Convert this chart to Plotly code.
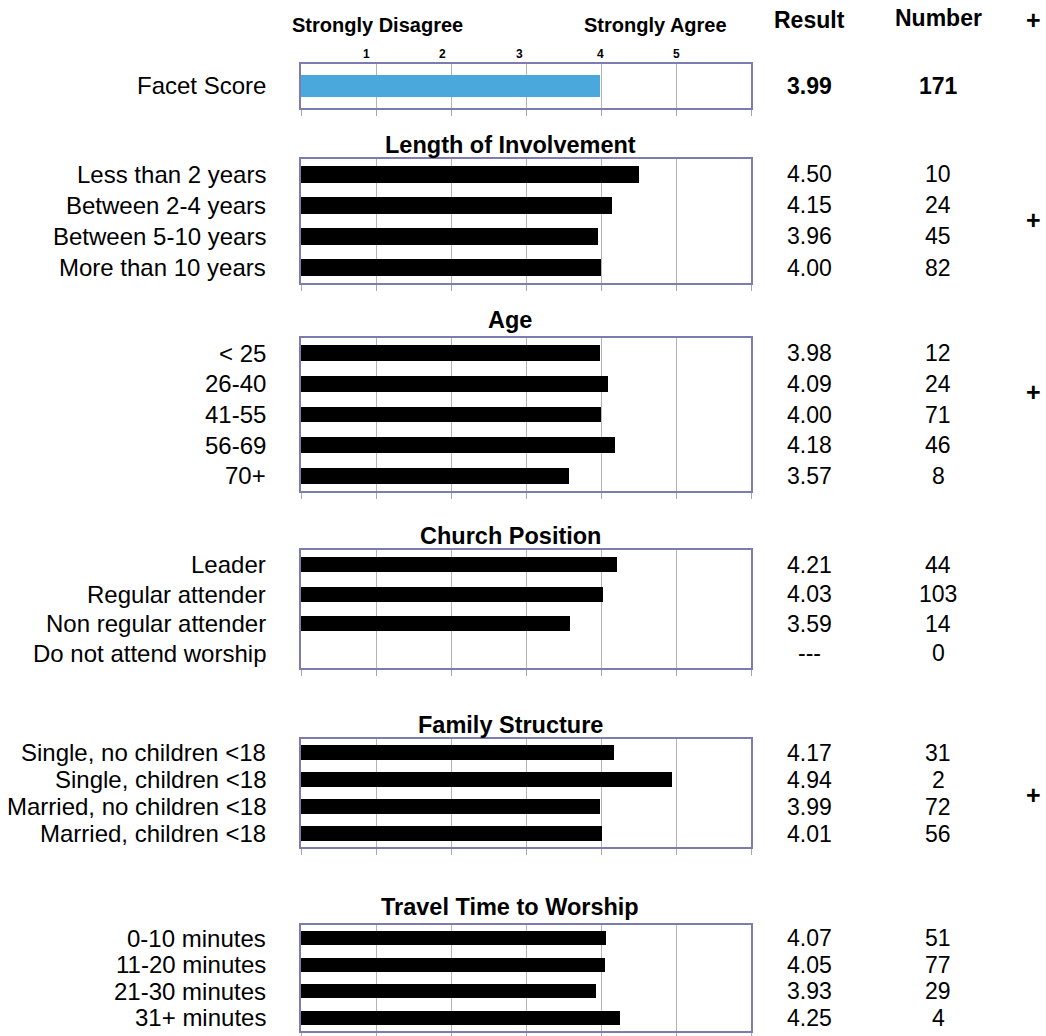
import plotly.graph_objects as go

# ---- data -------------------------------------------------------------
facet_labels = ["Facet Score"]
facet_values = [3.99]
facet_counts = [171]

involvement_labels = ["Less than 2 years", "Between 2-4 years",
                      "Between 5-10 years", "More than 10 years"]
involvement_values = [4.50, 4.15, 3.96, 4.00]
involvement_counts = [10, 24, 45, 82]

age_labels = ["< 25", "26-40", "41-55", "56-69", "70+"]
age_values = [3.98, 4.09, 4.00, 4.18, 3.57]
age_counts = [12, 24, 71, 46, 8]

position_labels = ["Leader", "Regular attender", "Non regular attender",
                   "Do not attend worship"]
position_values = [4.21, 4.03, 3.59, None]
position_counts = [44, 103, 14, 0]

family_labels = ["Single, no children <18", "Single, children <18",
                 "Married, no children <18", "Married, children <18"]
family_values = [4.17, 4.94, 3.99, 4.01]
family_counts = [31, 2, 72, 56]

travel_labels = ["0-10 minutes", "11-20 minutes", "21-30 minutes", "31+ minutes"]
travel_values = [4.07, 4.05, 3.93, 4.25]
travel_counts = [51, 77, 29, 4]

scale_ticks = [1, 2, 3, 4, 5]
scale_tick_labels = ["1", "2", "3", "4", "5"]

# ---- layout geometry (pixels) ----------------------------------------
W, H = 1046, 1036
FONT = "Arial, 'Liberation Sans', sans-serif"
BOX_LEFT, BOX_RIGHT = 301, 751
TITLE_X = 510
LABEL_RIGHT = 268
RESULT_X, NUMBER_X = 809, 938
BORDER = "#7c7cb0"
GRID = "#b4b4b4"
LABEL_SIZE = 24
VALUE_SIZE = 23
TITLE_SIZE = 23.5

panels = [
    # title, labels, values, counts, top px, bottom px, title y px, colour, bar width
    (None, facet_labels, facet_values, facet_counts, 64, 108, None, "#4ba8dc", 0.48),
    ("Length of Involvement", involvement_labels, involvement_values,
     involvement_counts, 159, 283, 145, "black", 0.52),
    ("Age", age_labels, age_values, age_counts, 338, 491, 320, "black", 0.52),
    ("Church Position", position_labels, position_values, position_counts,
     550, 668, 536, "black", 0.52),
    ("Family Structure", family_labels, family_values, family_counts,
     739, 847, 725, "black", 0.52),
    ("Travel Time to Worship", travel_labels, travel_values, travel_counts,
     925, 1031, 907, "black", 0.52),
]


def px(x):
    return x / W


def py(y):
    return 1 - y / H


fig = go.Figure()
annotations = []
layout_axes = {}

for i, (title, labels, values, counts, top, bottom, title_y, colour, bw) in enumerate(panels, start=1):
    xa = "x" if i == 1 else f"x{i}"
    ya = "y" if i == 1 else f"y{i}"
    fig.add_trace(go.Bar(
        x=values, y=labels, orientation="h", width=bw,
        marker=dict(color=colour, line=dict(width=0)),
        xaxis=xa, yaxis=ya, showlegend=False, hoverinfo="x+y",
    ))
    xkey = "xaxis" if i == 1 else f"xaxis{i}"
    ykey = "yaxis" if i == 1 else f"yaxis{i}"
    layout_axes[xkey] = dict(
        domain=[px(BOX_LEFT), px(BOX_RIGHT)], anchor=ya, range=[0, 6],
        tickvals=[0, 1, 2, 3, 4, 5, 6], showticklabels=False,
        showgrid=True, gridcolor=GRID, gridwidth=1,
        ticks="outside", ticklen=6, tickcolor="#a8a8a8", tickwidth=1,
        showline=True, linecolor=BORDER, linewidth=2, mirror=True,
        zeroline=False, fixedrange=True,
    )
    n = len(labels)
    layout_axes[ykey] = dict(
        domain=[py(bottom), py(top)], anchor=xa, type="category",
        categoryorder="array", categoryarray=labels,
        range=[n - 0.5, -0.5], showticklabels=False, showgrid=False,
        ticks="", showline=True, linecolor=BORDER, linewidth=2, mirror=True,
        zeroline=False, fixedrange=True,
    )

    bold = i == 1
    for lab, val, cnt in zip(labels, values, counts):
        annotations.append(dict(
            xref="paper", yref=ya, x=px(LABEL_RIGHT), y=lab, xanchor="right",
            yanchor="middle", text=lab, showarrow=False,
            font=dict(family=FONT, size=LABEL_SIZE, color="black")))
        res = "---" if val is None else f"{val:.2f}"
        annotations.append(dict(
            xref="paper", yref=ya, x=px(RESULT_X), y=lab, xanchor="center",
            yanchor="middle", text=f"<b>{res}</b>" if bold else res, showarrow=False,
            font=dict(family=FONT, size=VALUE_SIZE, color="black")))
        annotations.append(dict(
            xref="paper", yref=ya, x=px(NUMBER_X), y=lab, xanchor="center",
            yanchor="middle", text=f"<b>{cnt}</b>" if bold else str(cnt), showarrow=False,
            font=dict(family=FONT, size=VALUE_SIZE, color="black")))

    if title:
        annotations.append(dict(
            xref="paper", yref="paper", x=px(TITLE_X), y=py(title_y),
            xanchor="center", yanchor="middle", text=f"<b>{title}</b>", showarrow=False,
            font=dict(family=FONT, size=TITLE_SIZE, color="black")))

# scale header above the facet panel
annotations.append(dict(xref="paper", yref="paper", x=px(377), y=py(25),
                        text="<b>Strongly Disagree</b>", showarrow=False,
                        xanchor="center", yanchor="middle",
                        font=dict(family=FONT, size=20, color="black")))
annotations.append(dict(xref="paper", yref="paper", x=px(655), y=py(25),
                        text="<b>Strongly Agree</b>", showarrow=False,
                        xanchor="center", yanchor="middle",
                        font=dict(family=FONT, size=20, color="black")))
tick_shifts = [-10, -9, -7, -1, 0]
for t, tl, sh in zip(scale_ticks, scale_tick_labels, tick_shifts):
    annotations.append(dict(xref="x", yref="paper", x=t, y=py(54), xshift=sh,
                            text=f"<b>{tl}</b>", showarrow=False,
                            xanchor="center", yanchor="middle",
                            font=dict(family=FONT, size=12, color="black")))

# column headers
annotations.append(dict(xref="paper", yref="paper", x=px(RESULT_X), y=py(20),
                        text="<b>Result</b>", showarrow=False, xanchor="center",
                        yanchor="middle", font=dict(family=FONT, size=VALUE_SIZE, color="black")))
annotations.append(dict(xref="paper", yref="paper", x=px(NUMBER_X), y=py(18),
                        text="<b>Number</b>", showarrow=False, xanchor="center",
                        yanchor="middle", font=dict(family=FONT, size=VALUE_SIZE, color="black")))

# significance markers in the right margin
for y_plus in [20, 220, 392, 795]:
    annotations.append(dict(xref="paper", yref="paper", x=px(1033), y=py(y_plus),
                            text="<b>+</b>", showarrow=False, xanchor="center",
                            yanchor="middle", font=dict(family=FONT, size=25, color="black")))

fig.update_layout(
    width=W, height=H, margin=dict(l=0, r=0, t=0, b=0),
    paper_bgcolor="white", plot_bgcolor="white",
    annotations=annotations, bargap=0, showlegend=False,
    **layout_axes,
)

fig.write_html("out.html", config={"displayModeBar": False})
